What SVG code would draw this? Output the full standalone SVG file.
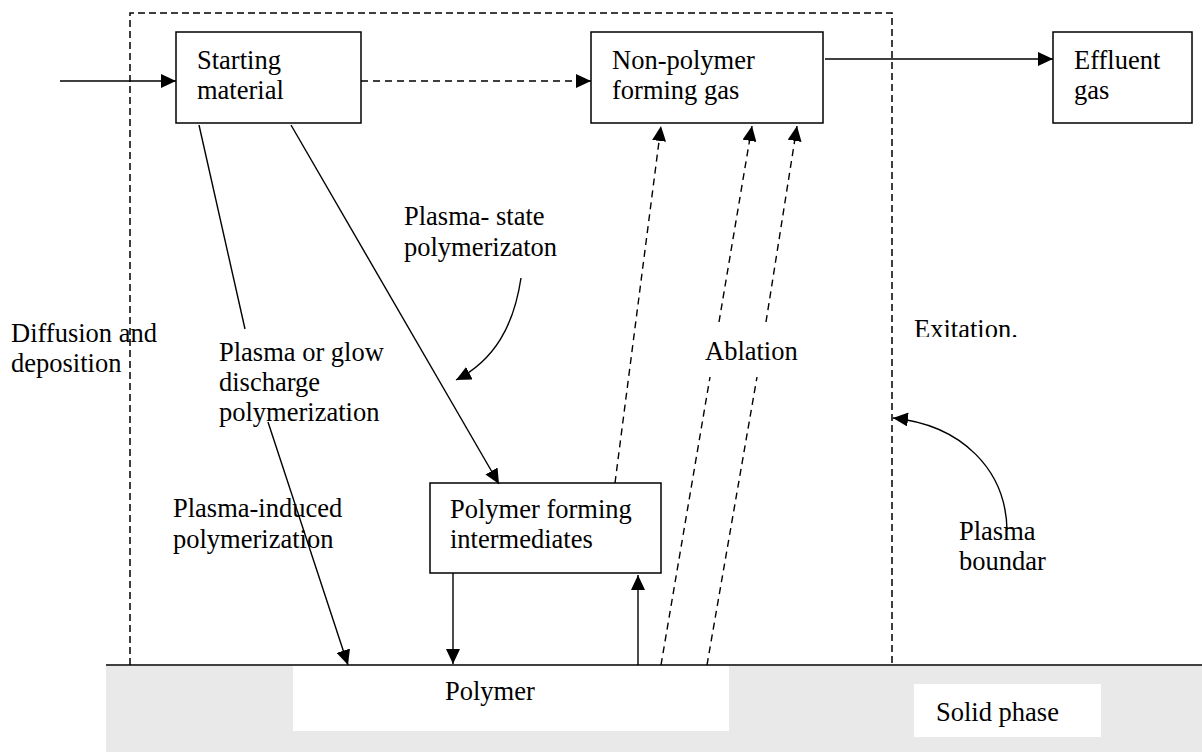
<svg xmlns="http://www.w3.org/2000/svg" width="1202" height="752" viewBox="0 0 1202 752">
<style>
text{font-family:"Liberation Serif","Times New Roman",serif;font-size:26.5px;fill:#000}
.box{fill:#fff;stroke:#000;stroke-width:1.5}
.ln{fill:none;stroke:#000;stroke-width:1.4}
.dash{fill:none;stroke:#000;stroke-width:1.4;stroke-dasharray:7 5}
.bound{fill:none;stroke:#000;stroke-width:1.5;stroke-dasharray:7 4}
</style>
<defs>
<marker id="ah" markerWidth="15" markerHeight="14" refX="15" refY="7" orient="auto" markerUnits="userSpaceOnUse">
<path d="M0,0 L15,7 L0,14 z" fill="#000"/>
</marker>
<clipPath id="exclip"><rect x="900" y="300" width="200" height="37"/></clipPath>
</defs>
<rect width="1202" height="752" fill="#fff"/>
<g id="solid-phase">
<rect x="106" y="666" width="1096" height="86" fill="#e9e9e9"/>
<rect x="293" y="666" width="436" height="65" fill="#fff"/>
<rect x="914" y="684" width="187" height="53" fill="#fff"/>
<text x="445" y="700">Polymer</text>
<text x="936" y="721">Solid phase</text>
</g>
<g id="plasma-boundary">
<path class="bound" d="M130,665 L130,13 L892,13 L892,665"/>
</g>
<g id="surface-line">
<line x1="106" y1="665" x2="1202" y2="665" stroke="#000" stroke-width="1.6"/>
</g>
<g id="node-starting">
<rect class="box" x="176" y="32" width="185" height="91"/>
<text x="197" y="69">Starting</text>
<text x="197" y="99">material</text>
</g>
<g id="node-nonpolymer">
<rect class="box" x="591" y="32" width="232" height="91"/>
<text x="612" y="69">Non-polymer</text>
<text x="612" y="99">forming gas</text>
</g>
<g id="node-effluent">
<rect class="box" x="1053" y="32" width="139" height="91"/>
<text x="1074" y="69">Effluent</text>
<text x="1074" y="99">gas</text>
</g>
<g id="node-intermediates">
<rect class="box" x="430" y="483" width="231" height="90"/>
<text x="450" y="518">Polymer forming</text>
<text x="450" y="548">intermediates</text>
</g>
<g id="connectors">
<line class="ln" x1="60" y1="81" x2="176" y2="81" marker-end="url(#ah)"/>
<line class="dash" x1="361" y1="81" x2="591" y2="81" marker-end="url(#ah)"/>
<line class="ln" x1="825" y1="59" x2="1053" y2="59" marker-end="url(#ah)"/>
<line class="ln" x1="199" y1="125" x2="245" y2="329"/>
<line class="ln" x1="268" y1="422" x2="348" y2="665" marker-end="url(#ah)"/>
<line class="ln" x1="291" y1="125" x2="499" y2="484" marker-end="url(#ah)"/>
<path class="ln" d="M521,278 C514,325 495,360 456,380" marker-end="url(#ah)"/>
<line class="ln" x1="453" y1="573" x2="453" y2="664" marker-end="url(#ah)"/>
<line class="ln" x1="638" y1="665" x2="638" y2="575" marker-end="url(#ah)"/>
<line class="dash" x1="615" y1="483" x2="661" y2="126" marker-end="url(#ah)"/>
<line class="dash" x1="661" y1="665" x2="710" y2="377"/>
<line class="dash" x1="719" y1="322" x2="752" y2="126" marker-end="url(#ah)"/>
<line class="dash" x1="707" y1="665" x2="757" y2="377"/>
<line class="dash" x1="766" y1="322" x2="797" y2="126" marker-end="url(#ah)"/>
<path class="ln" d="M1007,530 C1006,470 962,425 893,418" marker-end="url(#ah)"/>
</g>
<g id="labels">
<text x="11" y="342">Diffusion and</text>
<text x="11" y="372">deposition</text>
<text x="219" y="361">Plasma or glow</text>
<text x="219" y="391">discharge</text>
<text x="219" y="421">polymerization</text>
<text x="404" y="225">Plasma- state</text>
<text x="404" y="256">polymerizaton</text>
<text x="173" y="517">Plasma-induced</text>
<text x="173" y="548">polymerization</text>
<text x="705" y="360">Ablation</text>
<text x="914" y="338" clip-path="url(#exclip)">Exitation.</text>
<text x="959" y="540">Plasma</text>
<text x="959" y="570">boundar</text>
</g>
</svg>
